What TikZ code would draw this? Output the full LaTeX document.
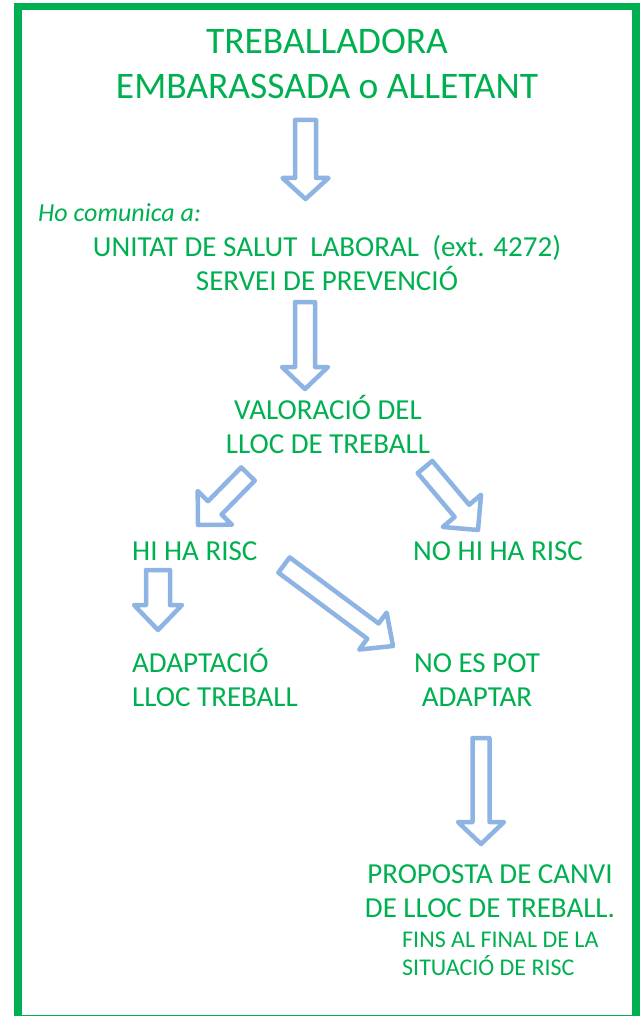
\documentclass[tikz,border=0pt]{standalone}
\usepackage{fontspec}
\setmainfont{Carlito}
\usepackage{tikz}
\usetikzlibrary{positioning,calc}
\definecolor{flowgreen}{HTML}{00B050}
\definecolor{flowblue}{HTML}{8EB4E3}
\tikzset{
  frame/.style={draw=flowgreen, line width=7.5pt},
  bigtext/.style={text=flowgreen, font=\fontsize{37.5}{45}\selectfont, align=center, anchor=base, inner sep=0pt},
  midtext/.style={text=flowgreen, font=\fontsize{29}{34}\selectfont, align=center, anchor=base, inner sep=0pt},
  smalltext/.style={text=flowgreen, font=\fontsize{24}{28}\selectfont, align=left, anchor=base west, inner sep=0pt},
  fatarrow/.style={draw=flowblue, line width=4.5pt, line join=round, fill=white},
}
% hollow block arrow: tail, tip, shaft half width, head half width, head length
\newcommand{\fatarrow}[5]{%
  \coordinate (#1-hb) at ($(#2)!#5!(#1)$);
  \draw[fatarrow] ($(#1)!#3!90:(#2)$) -- ($(#1-hb)!#3!90:(#2)$) -- ($(#1-hb)!#4!90:(#2)$) -- (#2)
    -- ($(#1-hb)!#4!-90:(#2)$) -- ($(#1-hb)!#3!-90:(#2)$) -- ($(#1)!#3!-90:(#2)$) -- cycle;
}

\begin{document}
\begin{tikzpicture}[x=1pt, y=-1pt]
  \useasboundingbox (0,0) rectangle (644,1016);
  \draw[frame] (18,6.5) rectangle (636,1019);

  % base of a two line node is its last line
  \node[bigtext] (title) at (327,99) {TREBALLADORA\\EMBARASSADA o ALLETANT};
  \node[midtext, font=\fontsize{26}{30}\selectfont\itshape, anchor=base west] (comunica) at (38,222) {Ho comunica a:};
  \node[midtext] (unitat) at (327,290) {UNITAT DE SALUT \ LABORAL \ (ext. 4272)\\SERVEI DE PREVENCIÓ};
  \node[midtext] (valoracio) at (328,453) {VALORACIÓ DEL\\LLOC DE TREBALL};
  \node[midtext, anchor=base west] (risc) at (132,560) {HI HA RISC};
  \node[midtext, anchor=base west] (norisc) at (413,560) {NO HI HA RISC};
  \node[midtext, anchor=base west, align=left] (adaptacio) at (132,706) {ADAPTACIÓ\\LLOC TREBALL};
  \node[midtext] (noadaptar) at (477,706) {NO ES POT\\ADAPTAR};
  \node[midtext] (proposta) at (490,917) {PROPOSTA DE CANVI\\DE LLOC DE TREBALL.};
  \node[smalltext] (fins) at (402,975) {FINS AL FINAL DE LA\\SITUACIÓ DE RISC};

  % arrow ends
  \coordinate (t1) at (305.5,120);  \coordinate (p1) at (305.5,199);
  \coordinate (t2) at (305,302);    \coordinate (p2) at (305,389);
  \coordinate (t3) at (248,474);    \coordinate (p3) at (198,525);
  \coordinate (t4) at (425,467);    \coordinate (p4) at (478,530);
  \coordinate (t5) at (158,570);    \coordinate (p5) at (158,630);
  \coordinate (t6) at (284,565);    \coordinate (p6) at (393,646);
  \coordinate (t7) at (481,738);    \coordinate (p7) at (481,844);

  \fatarrow{t1}{p1}{10.5pt}{23pt}{21pt}
  \fatarrow{t2}{p2}{10pt}{23pt}{22pt}
  \fatarrow{t3}{p3}{9.5pt}{24pt}{24pt}
  \fatarrow{t4}{p4}{9.5pt}{25pt}{25pt}
  \fatarrow{t5}{p5}{12pt}{24pt}{25pt}
  \fatarrow{t6}{p6}{9.5pt}{23pt}{25pt}
  \fatarrow{t7}{p7}{8.5pt}{23pt}{22pt}
\end{tikzpicture}
\end{document}
